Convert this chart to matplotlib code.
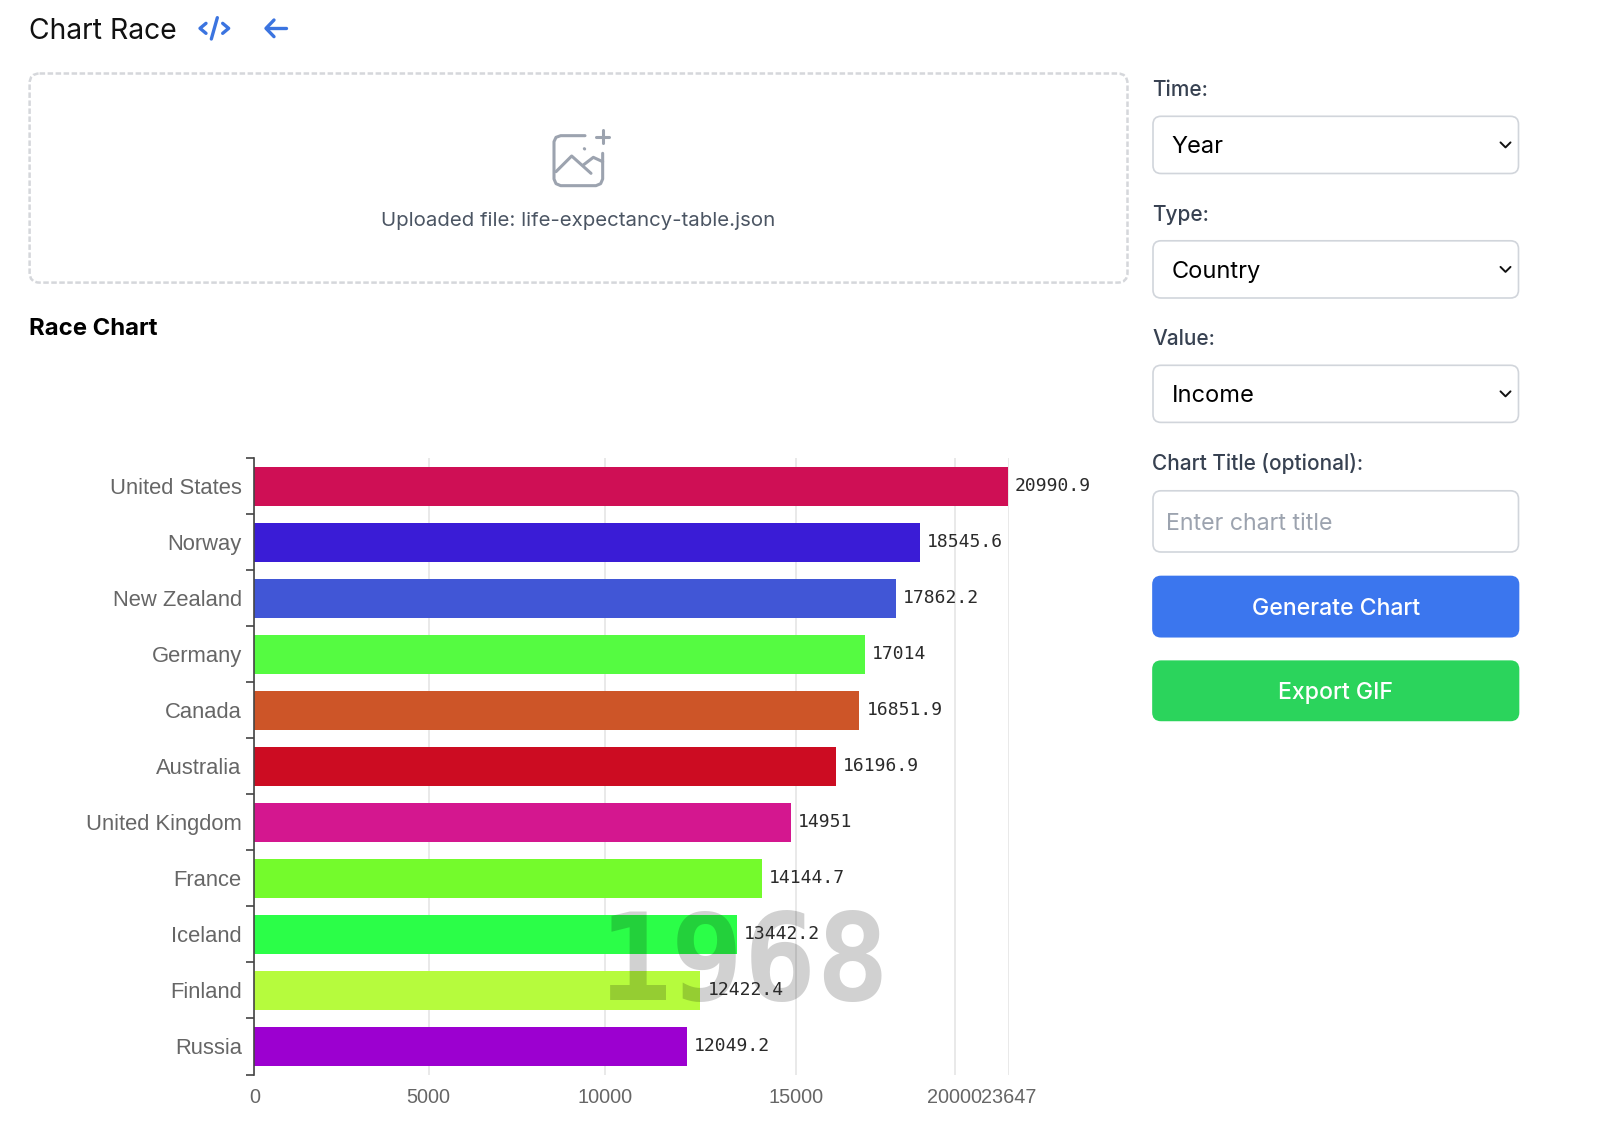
import matplotlib
matplotlib.use('Agg')
import matplotlib.pyplot as plt
from matplotlib.patches import FancyBboxPatch

paises = ['United States', 'Norway', 'New Zealand', 'Germany', 'Canada', 'Australia',
          'United Kingdom', 'France', 'Iceland', 'Finland', 'Russia']
valores = [20990.9, 18545.6, 17862.2, 17014, 16851.9, 16196.9, 14951, 14144.7, 13442.2, 12422.4, 12049.2]
rotulos = ['20990.9', '18545.6', '17862.2', '17014', '16851.9', '16196.9', '14951', '14144.7', '13442.2', '12422.4', '12049.2']
cores = ['#cf0f55', '#3a1cd6', '#4156d6', '#55fb41', '#cd5528', '#cc0c22',
         '#d4178f', '#74fb2c', '#2bfe48', '#b6fb3d', '#9c00d0']
ticks_x = [0, 4854, 9761, 15085, 19513, 21017]
ticks_txt = ['0', '5000', '10000', '15000', '20000', '23647']
ano = '1968'

W, H = 1600, 1127
UI = 'Inter'
AZUL = '#3b74e0'
CINZA = '#d1d5db'

fig = plt.figure(figsize=(W / 100, H / 100), dpi=100)

# camada da interface, em pixels
ui = fig.add_axes([0, 0, 1, 1])
ui.set_xlim(0, W)
ui.set_ylim(H, 0)
ui.axis('off')


def caixa(x0, y0, x1, y1, fc='white', ec=CINZA, lw=1.2, ls='-', r=8):
    ui.add_patch(FancyBboxPatch((x0, y0), x1 - x0, y1 - y0, boxstyle='round,pad=0,rounding_size=%d' % r,
                                fc=fc, ec=ec, lw=lw, ls=ls))


def texto(x, y, s, size, color='#374151', ha='left', weight='normal', family=UI):
    ui.text(x, y, s, fontsize=size, color=color, ha=ha, va='center', fontweight=weight, family=family)


def traco(xs, ys, color, lw=2.4):
    ui.plot(xs, ys, color=color, lw=lw, solid_capstyle='round', solid_joinstyle='round')


texto(28.6, 31.5, 'Chart Race', 20.4, color='#111111')

# icones do topo (recorte 3x a partir de 190,5)
def ic(pts):
    return [190 + p[0] / 3 for p in pts], [5 + p[1] / 3 for p in pts]

for pts in ([(48, 55), (30, 70), (48, 85)], [(82, 38), (64, 102)], [(98, 55), (116, 70), (98, 85)],
            [(228, 70), (288, 70)], [(252, 45), (228, 70), (252, 95)]):
    traco(*ic(pts), AZUL, lw=2.4)

# area de upload
caixa(29.6, 73.5, 1127.5, 282.6, ls=(0, (2.2, 1.0)), lw=1.8, ec='#d5d7db', r=10)


def ic2(pts):
    return [530 + p[0] / 3 for p in pts], [120 + p[1] / 3 for p in pts]

icone = '#9ca3af'
for pts in ([(165, 47), (92, 47), (78, 52), (72, 65), (72, 177), (78, 191), (92, 197), (198, 197), (212, 191), (218, 177), (218, 100)],
            [(78, 155), (125, 108), (183, 160)], [(160, 135), (190, 112), (218, 125)],
            [(218, 30), (218, 70)], [(198, 50), (238, 50)], [(163, 86), (164, 87)]):
    traco(*ic2(pts), icone, lw=2.2)
texto(578.6, 220.5, 'Uploaded file: life-expectancy-table.json', 14.7, color='#4b5563', ha='center')
texto(28.6, 329, 'Race Chart', 17.2, color='#000000', weight='bold')

# painel da direita
x0, x1 = 1153, 1518.5
for y, s in zip([90, 214.8, 339.3, 463.7], ['Time:', 'Type:', 'Value:', 'Chart Title (optional):']):
    texto(x0 - 1, y, s, 15, weight='medium')
for (y0, y1), s in zip([(116.3, 173.5), (240.8, 298), (365.3, 422.4)], ['Year', 'Country', 'Income']):
    caixa(x0, y0, x1, y1)
    yc = (y0 + y1) / 2
    texto(1171.5, yc + 2.5, s, 17, color='#000000')
    traco([1500.5, 1505.5, 1510.5], [yc - 2.5, yc + 2.5, yc - 2.5], '#111111', lw=1.4)
caixa(x0, 490.8, x1, 552)
texto(1166, 523.5, 'Enter chart title', 16.7, color='#9ca3af')
caixa(x0, 576.5, x1, 636.7, fc='#3b76ee', ec='#3b76ee')
texto(1336, 609, 'Generate Chart', 16.6, color='white', ha='center', weight='medium')
caixa(x0, 661.2, x1, 720.4, fc='#2bd45c', ec='#2bd45c')
texto(1336, 693.5, 'Export GIF', 16.6, color='white', ha='center', weight='medium')

# grafico
topo, base, esq, dir_ = 458.3, 1074.5, 254.3, 1009
ax = fig.add_axes([esq / W, 1 - base / H, (dir_ - esq) / W, (base - topo) / H])
ax.patch.set_alpha(0)
pos = list(range(len(paises)))
ax.barh(pos, valores, height=0.69, color=cores, zorder=2)
ax.set_xlim(0, ticks_x[-1])
ax.set_ylim(len(paises) - 0.5, -0.5)
for s in ['top', 'right', 'bottom']:
    ax.spines[s].set_visible(False)
ax.spines['left'].set_color('#444444')
ax.spines['left'].set_linewidth(1.2)

ax.set_xticks(ticks_x)
ax.set_xticklabels(ticks_txt, fontsize=14.3, color='#666666', family='Liberation Sans')
ax.tick_params(axis='x', length=0, pad=10)
ax.grid(axis='x', color='#e3e3e3', lw=1.1, zorder=0)
ax.set_axisbelow(True)

ax.set_yticks(pos)
ax.set_yticklabels(paises, fontsize=15.8, color='#666666', family='Liberation Sans')
ax.tick_params(axis='y', length=0, pad=9)
ax.set_yticks([p - 0.5 for p in pos] + [pos[-1] + 0.5], minor=True)
ax.tick_params(axis='y', which='minor', length=5.8, width=1.2, color='#444444')

for p, v, t in zip(pos, valores, rotulos):
    ax.annotate(t, (v, p), xytext=(7, 0), textcoords='offset pixels', va='center', ha='left',
                fontsize=13, color='#2a2a2a', family='DejaVu Sans Mono', zorder=5)

ui.set_zorder(0)
ax.set_zorder(1)
ax.text(744.5, 967, ano, transform=ui.transData, fontsize=87, fontweight='bold', family='DejaVu Sans Mono',
        color='black', alpha=0.18, ha='center', va='center', zorder=4)

fig.savefig('out.png', dpi=100)
